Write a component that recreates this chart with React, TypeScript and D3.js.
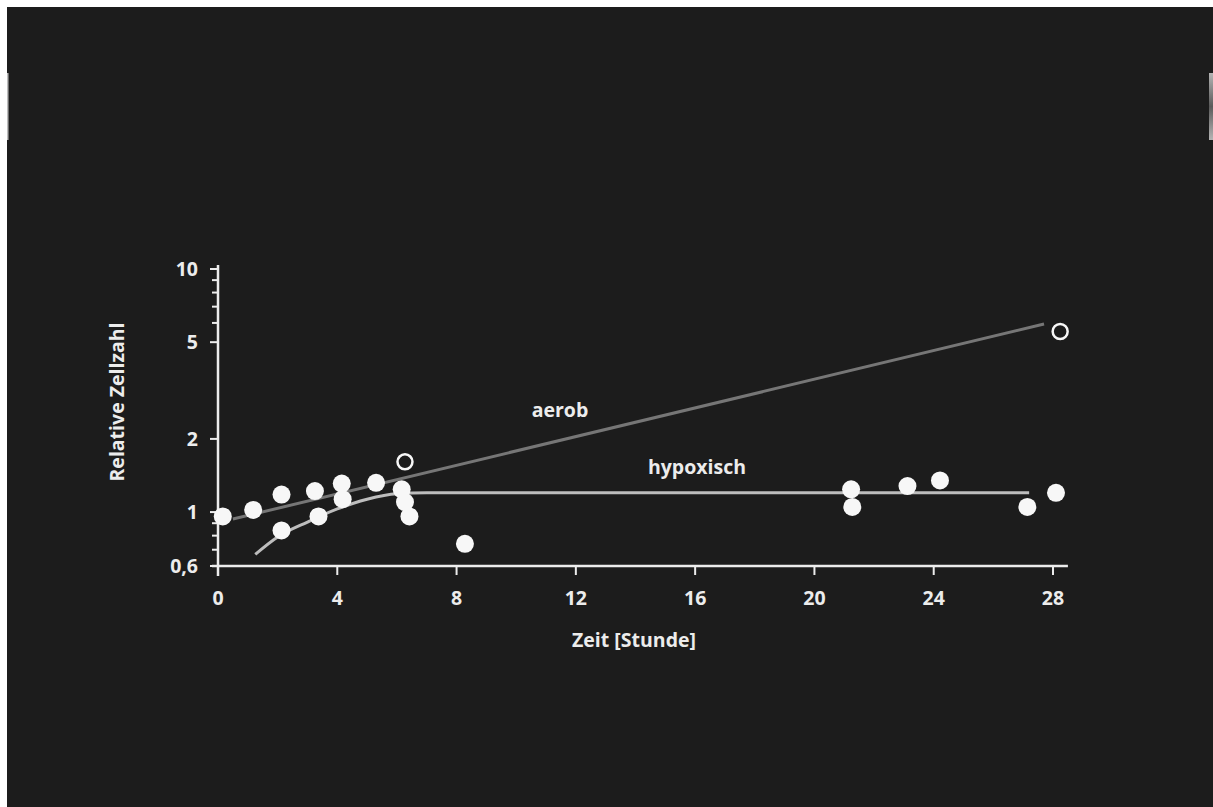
import React from "react";
import * as d3 from "d3";

// ---- data ----
const xTicks = [0, 4, 8, 12, 16, 20, 24, 28];
const yMajorTicks = [10, 5, 2, 1, 0.6];
const yTickLabels = ["10", "5", "2", "1", "0,6"];
const yMinorTicks = [9, 8, 7, 6, 0.9, 0.8, 0.7];

// filled points: [Zeit (h), relative Zellzahl]
const filledTime = [0.16, 1.18, 2.13, 2.13, 3.25, 3.37, 4.15, 4.18, 5.3, 6.16, 6.27, 6.42, 8.28, 21.23, 21.27, 23.12, 24.21, 27.14, 28.1];
const filledValue = [0.96, 1.02, 1.18, 0.84, 1.22, 0.96, 1.31, 1.13, 1.32, 1.24, 1.1, 0.96, 0.74, 1.24, 1.05, 1.28, 1.35, 1.05, 1.2];

// open points (aerob)
const openTime = [6.27, 28.24];
const openValue = [1.61, 5.53];

// fitted lines
const aerobTime = [0.5, 27.7];
const aerobValue = [0.936, 5.94];
const hypoxTime = [1.25, 2.0, 3.0, 4.0, 5.0, 6.0, 7.0, 27.2];
const hypoxValue = [0.67, 0.79, 0.91, 1.03, 1.13, 1.19, 1.2, 1.2];

const labels = { x: "Zeit [Stunde]", y: "Relative Zellzahl", aerob: "aerob", hypox: "hypoxisch" };

const W = 1213;
const H = 807;
const FONT = "'Open Sans', 'Noto Sans', sans-serif";
const FS = 19.5;

export default function App() {
  const x = d3.scaleLinear().domain([0, 28]).range([218, 1053]);
  const y = d3.scaleLog().domain([0.6, 10]).range([566, 269]);

  const aerobPath = d3
    .line<[number, number]>()
    .x((d) => x(d[0]))
    .y((d) => y(d[1]))(aerobTime.map((t, i) => [t, aerobValue[i]]));
  const hypoxPath = d3
    .line<[number, number]>()
    .x((d) => x(d[0]))
    .y((d) => y(d[1]))
    .curve(d3.curveMonotoneX)(hypoxTime.map((t, i) => [t, hypoxValue[i]]));

  const axisColor = "#ececec";
  const textColor = "#ececec";

  return (
    <svg
      width={W}
      height={H}
      style={{ position: "absolute", left: 0, top: 0 }}
      fontFamily={FONT}
    >
      <defs>
        <linearGradient id="strip" x1="0" y1="0" x2="0" y2="1">
          <stop offset="0" stopColor="#b5b5b5" />
          <stop offset="0.5" stopColor="#5a5a5a" />
          <stop offset="1" stopColor="#b5b5b5" />
        </linearGradient>
      </defs>
      <rect x={0} y={0} width={W} height={H} fill="#ffffff" />
      <rect x={7} y={7} width={W - 7} height={H - 7} fill="#1c1c1c" />
      <rect x={7} y={73} width={1.5} height={67} fill="#bdbdbd" />
      <rect x={1209} y={73} width={4} height={67} fill="url(#strip)" />

      {/* lines */}
      <path d={aerobPath || ""} fill="none" stroke="#767676" strokeWidth={3} />
      <path d={hypoxPath || ""} fill="none" stroke="#bdbdbd" strokeWidth={3} />

      {/* axes */}
      <line x1={x(0)} x2={x(0)} y1={y(10) - 4} y2={y(0.6) + 10} stroke={axisColor} strokeWidth={2.5} />
      <line x1={x(0) - 6} x2={x(28.5)} y1={y(0.6)} y2={y(0.6)} stroke={axisColor} strokeWidth={2.5} />

      {yMajorTicks.map((v, i) => (
        <g key={"ym" + i}>
          <line x1={x(0) - 8} x2={x(0)} y1={y(v)} y2={y(v)} stroke={axisColor} strokeWidth={2} />
          <text
            x={198}
            y={y(v)}
            dy="0.35em"
            textAnchor="end"
            fill={textColor}
            fontSize={FS}
            fontWeight={700}
          >
            {yTickLabels[i]}
          </text>
        </g>
      ))}
      {yMinorTicks.map((v, i) => (
        <line key={"yn" + i} x1={x(0) - 6} x2={x(0)} y1={y(v)} y2={y(v)} stroke={axisColor} strokeWidth={2} />
      ))}
      {xTicks.map((t) => (
        <g key={"xt" + t}>
          <line x1={x(t)} x2={x(t)} y1={y(0.6)} y2={y(0.6) + 9} stroke={axisColor} strokeWidth={2} />
          <text
            x={x(t)}
            y={598}
            dy="0.35em"
            textAnchor="middle"
            fill={textColor}
            fontSize={FS}
            fontWeight={700}
          >
            {t}
          </text>
        </g>
      ))}

      {/* axis titles */}
      <text x={634} y={640} dy="0.35em" textAnchor="middle" fill={textColor} fontSize={FS} fontWeight={700}>
        {labels.x}
      </text>
      <text
        transform={`translate(117,402) rotate(-90)`}
        dy="0.35em"
        textAnchor="middle"
        fill={textColor}
        fontSize={FS}
        fontWeight={700}
      >
        {labels.y}
      </text>
      <text x={560} y={410} dy="0.35em" textAnchor="middle" fill={textColor} fontSize={FS} fontWeight={700}>
        {labels.aerob}
      </text>
      <text x={697} y={467} dy="0.35em" textAnchor="middle" fill={textColor} fontSize={FS} fontWeight={700}>
        {labels.hypox}
      </text>

      {/* points */}
      {filledTime.map((t, i) => (
        <circle key={"f" + i} cx={x(t)} cy={y(filledValue[i])} r={9} fill="#f7f7f7" />
      ))}
      {openTime.map((t, i) => (
        <circle
          key={"o" + i}
          cx={x(t)}
          cy={y(openValue[i])}
          r={7.5}
          fill="#1c1c1c"
          stroke="#f7f7f7"
          strokeWidth={2.5}
        />
      ))}
    </svg>
  );
}
